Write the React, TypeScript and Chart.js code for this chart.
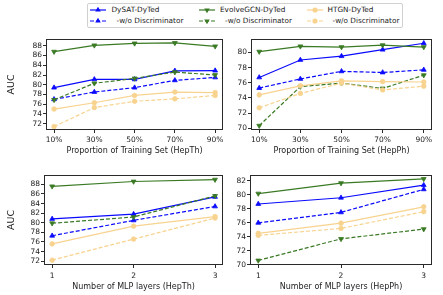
import React, { useEffect, useRef } from 'react';
import { Chart, registerables } from 'chart.js';

Chart.register(...registerables);

// ---------- data ----------
const proportionLabels = ['10%', '30%', '50%', '70%', '90%'];
const layerLabels = ['1', '2', '3'];

const seriesNames = [
  'DySAT-DyTed',
  '-w/o Discriminator',
  'EvolveGCN-DyTed',
  '-w/o Discriminator',
  'HTGN-DyTed',
  '-w/o Discriminator',
];

// HepTh, proportion of training set
const thPropDysat = [79.4, 81.1, 81.1, 82.85, 82.9];
const thPropDysatWo = [77.0, 78.5, 79.4, 80.9, 81.5];
const thPropEvolve = [86.8, 88.1, 88.5, 88.6, 87.9];
const thPropEvolveWo = [76.9, 80.3, 81.3, 82.6, 82.0];
const thPropHtgn = [75.0, 76.3, 77.8, 78.5, 78.4];
const thPropHtgnWo = [71.4, 75.3, 76.6, 77.1, 77.8];

// HepPh, proportion of training set
const phPropDysat = [76.7, 79.0, 79.5, 80.35, 81.2];
const phPropDysatWo = [75.3, 76.5, 77.5, 77.35, 77.7];
const phPropEvolve = [80.1, 80.8, 80.7, 80.95, 80.7];
const phPropEvolveWo = [70.35, 75.5, 75.95, 75.25, 77.0];
const phPropHtgn = [74.4, 75.6, 76.25, 76.15, 76.1];
const phPropHtgnWo = [72.7, 74.6, 75.95, 75.05, 75.55];

// HepTh, number of MLP layers
const thMlpDysat = [80.8, 81.8, 85.4];
const thMlpDysatWo = [77.3, 80.5, 83.4];
const thMlpEvolve = [87.6, 88.6, 89.0];
const thMlpEvolveWo = [79.9, 81.2, 85.6];
const thMlpHtgn = [75.6, 79.3, 81.3];
const thMlpHtgnWo = [72.2, 76.6, 81.0];

// HepPh, number of MLP layers
const phMlpDysat = [78.7, 79.6, 81.4];
const phMlpDysatWo = [76.0, 77.5, 80.8];
const phMlpEvolve = [80.2, 81.7, 82.3];
const phMlpEvolveWo = [70.6, 73.7, 75.1];
const phMlpHtgn = [74.5, 75.95, 78.3];
const phMlpHtgnWo = [74.2, 75.2, 77.6];

const thYTicks = [72, 74, 76, 78, 80, 82, 84, 86, 88];
const phPropYTicks = [70, 72, 74, 76, 78, 80];
const phMlpYTicks = [70, 72, 74, 76, 78, 80, 82];

// ---------- styles ----------
const BLUE = '#0a0aff';
const GREEN = '#3a7a24';
const ORANGE = '#f8d38f';
const FONT = "'DejaVu Sans', sans-serif";
const colors = [BLUE, BLUE, GREEN, GREEN, ORANGE, ORANGE];
const dashed = [false, true, false, true, false, true];
const shapes = ['triangle', 'triangle', 'triangle', 'triangle', 'circle', 'circle'];
const rotations = [0, 0, 180, 180, 0, 0];

const framePlugin = {
  id: 'frame',
  afterDraw(chart: any) {
    const { ctx, chartArea } = chart;
    const { left, top, right, bottom } = chartArea;
    ctx.save();
    ctx.strokeStyle = '#2a2a2a';
    ctx.lineWidth = 1;
    ctx.strokeRect(Math.round(left) + 0.5, Math.round(top) + 0.5, Math.round(right - left) - 1, Math.round(bottom - top) - 1);
    ctx.restore();
  },
};

type PanelProps = {
  series: number[][];
  labels: string[];
  yMin: number;
  yMax: number;
  yTicks: number[];
  xTitle: string;
  showYTitle: boolean;
  xTickPad: number;
  box: { left: number; top: number; w: number; h: number };
  area: { left: number; top: number; right: number; bottom: number };
};

function Panel(props: PanelProps) {
  const ref = useRef<HTMLCanvasElement>(null);
  useEffect(() => {
    const { series, labels, yMin, yMax, yTicks, xTitle, showYTitle, box, area, xTickPad } = props;
    const n = labels.length;
    const datasets = series.map((vals, i) => ({
      label: seriesNames[i],
      data: vals.map((v, k) => ({ x: k, y: v })),
      borderColor: colors[i],
      backgroundColor: colors[i],
      borderWidth: 1.2,
      borderDash: dashed[i] ? [4, 2] : [],
      pointStyle: shapes[i],
      pointRotation: rotations[i],
      pointRadius: shapes[i] === 'circle' ? 2.3 : 2.8,
      pointBorderWidth: 0.8,
      pointBorderColor: colors[i],
      pointBackgroundColor: colors[i],
      order: 5 - i,
      tension: 0,
    }));
    const chart = new Chart(ref.current as HTMLCanvasElement, {
      type: 'line',
      data: { datasets } as any,
      plugins: [framePlugin],
      options: {
        animation: false,
        responsive: false,
        layout: { padding: { left: 0, top: area.top, right: box.w - area.right, bottom: 0 } },
        plugins: { legend: { display: false }, tooltip: { enabled: false } },
        scales: {
          x: {
            type: 'linear',
            min: -0.05 * (n - 1),
            max: (n - 1) * 1.05,
            afterBuildTicks: (s: any) => {
              s.ticks = labels.map((_, k) => ({ value: k }));
            },
            afterFit: (s: any) => {
              s.height = box.h - area.bottom;
            },
            ticks: {
              callback: (v: any) => labels[v as number] ?? '',
              font: { family: FONT, size: 7.5 },
              color: '#222',
              padding: xTickPad,
              maxRotation: 0,
              autoSkip: false,
            },
            grid: { display: true, drawOnChartArea: false, drawTicks: true, tickLength: 3, color: '#2a2a2a' },
            border: { display: false },
            title: {
              display: true,
              text: xTitle,
              font: { family: FONT, size: 8 },
              color: '#222',
              padding: { top: 0, bottom: 3 },
            },
          },
          y: {
            type: 'linear',
            min: yMin,
            max: yMax,
            afterBuildTicks: (s: any) => {
              s.ticks = yTicks.map((v) => ({ value: v }));
            },
            afterFit: (s: any) => {
              s.width = area.left;
            },
            ticks: {
              font: { family: FONT, size: 7.5 },
              color: '#222',
              padding: 1,
              autoSkip: false,
            },
            grid: { display: true, drawOnChartArea: false, drawTicks: true, tickLength: 3, color: '#2a2a2a' },
            border: { display: false },
            title: {
              display: showYTitle,
              text: 'AUC',
              font: { family: FONT, size: 9.5 },
              color: '#222',
              padding: { top: 6, bottom: 0 },
            },
          },
        },
      } as any,
    });
    return () => chart.destroy();
  }, []);
  const { box } = props;
  return (
    <canvas
      ref={ref}
      width={box.w}
      height={box.h}
      style={{ position: 'absolute', left: box.left, top: box.top, width: box.w, height: box.h }}
    />
  );
}

function LegendMarker({ color, dash, shape, rot }: { color: string; dash: boolean; shape: string; rot: number }) {
  const w = 16;
  const h = 8;
  const cx = w / 2;
  const cy = h / 2;
  let marker: any;
  if (shape === 'circle') {
    marker = <circle cx={cx} cy={cy} r={2.6} fill={color} />;
  } else {
    const r = 3.2;
    const pts = [0, 120, 240]
      .map((a) => {
        const rad = ((a + rot) * Math.PI) / 180;
        return `${cx + Math.sin(rad) * r},${cy - Math.cos(rad) * r}`;
      })
      .join(' ');
    marker = <polygon points={pts} fill={color} />;
  }
  return (
    <svg width={w} height={h} style={{ display: 'block' }}>
      <line x1={0} y1={cy} x2={w} y2={cy} stroke={color} strokeWidth={1.2} strokeDasharray={dash ? '4 2' : undefined} />
      {marker}
    </svg>
  );
}

function Legend() {
  const cols = [
    { lineX: 90, textX: 111.5 },
    { lineX: 199, textX: 220 },
    { lineX: 306.5, textX: 327.5 },
  ];
  const rows = [9.5, 21];
  const items: any[] = [];
  seriesNames.forEach((name, i) => {
    const c = cols[Math.floor(i / 2)];
    const rIdx = i % 2;
    const y = rows[rIdx];
    items.push(
      <div key={'m' + i} style={{ position: 'absolute', left: c.lineX, top: y - 4 }}>
        <LegendMarker color={colors[i]} dash={dashed[i]} shape={shapes[i]} rot={rotations[i]} />
      </div>
    );
    items.push(
      <div
        key={'t' + i}
        style={{
          position: 'absolute',
          left: c.textX + (rIdx === 1 ? 5 : 0),
          top: y - 5,
          height: 10,
          lineHeight: '10px',
          fontFamily: FONT,
          fontSize: 7.3,
          color: '#222',
          whiteSpace: 'nowrap',
        }}
      >
        {name}
      </div>
    );
  });
  return (
    <>
      <div
        style={{
          position: 'absolute',
          left: 87,
          top: 3,
          width: 316,
          height: 25,
          border: '1px solid #d0d0d0',
          borderRadius: 2,
          boxSizing: 'border-box',
          background: '#fff',
        }}
      />
      {items}
    </>
  );
}

export default function App() {
  return (
    <div style={{ position: 'fixed', left: 0, top: 0, width: 443, height: 295, background: '#fff', overflow: 'hidden' }}>
      <Legend />
      <Panel
        series={[thPropDysat, thPropDysatWo, thPropEvolve, thPropEvolveWo, thPropHtgn, thPropHtgnWo]}
        labels={proportionLabels}
        yMin={70.7}
        yMax={89.4}
        yTicks={thYTicks}
        xTitle="Proportion of Training Set (HepTh)"
        showYTitle={true}
        xTickPad={3}
        box={{ left: 0, top: 30, w: 228, h: 129 }}
        area={{ left: 46, top: 9, right: 224, bottom: 100 }}
      />
      <Panel
        series={[phPropDysat, phPropDysatWo, phPropEvolve, phPropEvolveWo, phPropHtgn, phPropHtgnWo]}
        labels={proportionLabels}
        yMin={69.78}
        yMax={81.76}
        yTicks={phPropYTicks}
        xTitle="Proportion of Training Set (HepPh)"
        showYTitle={false}
        xTickPad={3}
        box={{ left: 228, top: 30, w: 215, h: 129 }}
        area={{ left: 23, top: 9, right: 204, bottom: 100 }}
      />
      <Panel
        series={[thMlpDysat, thMlpDysatWo, thMlpEvolve, thMlpEvolveWo, thMlpHtgn, thMlpHtgnWo]}
        labels={layerLabels}
        yMin={71.2}
        yMax={89.96}
        yTicks={thYTicks}
        xTitle="Number of MLP layers (HepTh)"
        showYTitle={true}
        xTickPad={4}
        box={{ left: 0, top: 162, w: 228, h: 133 }}
        area={{ left: 44, top: 13, right: 225, bottom: 103 }}
      />
      <Panel
        series={[phMlpDysat, phMlpDysatWo, phMlpEvolve, phMlpEvolveWo, phMlpHtgn, phMlpHtgnWo]}
        labels={layerLabels}
        yMin={69.95}
        yMax={82.86}
        yTicks={phMlpYTicks}
        xTitle="Number of MLP layers (HepPh)"
        showYTitle={false}
        xTickPad={4}
        box={{ left: 228, top: 162, w: 215, h: 133 }}
        area={{ left: 22, top: 13, right: 204, bottom: 103 }}
      />
    </div>
  );
}
